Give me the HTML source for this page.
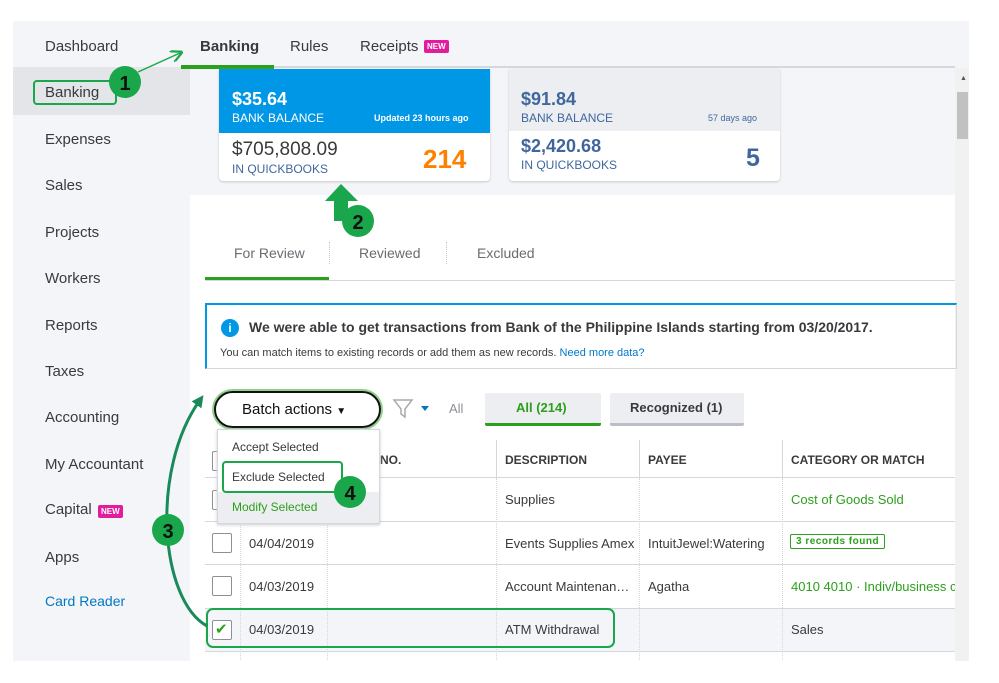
<!DOCTYPE html>
<html><head><meta charset="utf-8"><style>
*{margin:0;padding:0;box-sizing:border-box}
body{width:999px;height:683px;background:#fff;position:relative;overflow:hidden;font-family:"Liberation Sans",sans-serif;color:#393a3d}
.a{position:absolute;white-space:nowrap}
.nav{font-size:15px;color:#393a3d;left:45px}
.hd{font-size:12px;font-weight:bold;color:#393a3d}
.cell{font-size:13px;color:#393a3d}
.g{color:#2ca01c}
.hl{position:absolute;height:1px;background:#d4d7dc;left:205px;width:750px}
.vl{position:absolute;width:1px;border-left:1px dotted #d4d7dc;top:440px;height:220px}
.cb{position:absolute;width:20px;height:20px;border:1px solid #8d9096;border-radius:2px;background:#fff;left:212px}
</style></head><body>
<div class="a" style="left:13px;top:21px;width:956px;height:640px;background:#f4f5f8"></div>
<div class="a" style="left:13px;top:67px;width:177px;height:48px;background:#e4e5e8"></div>
<div class="a" style="left:190px;top:66px;width:765px;height:2px;background:#d4d7dc"></div>
<div class="a" style="left:181px;top:65px;width:93px;height:4px;background:#2ca01c"></div>
<div class="a" style="left:190px;top:195px;width:765px;height:466px;background:#fff"></div>
<div class="a" style="left:955px;top:68px;width:14px;height:593px;background:#f1f1f1"></div>
<div class="a" style="left:957px;top:92px;width:11px;height:47px;background:#c1c1c1"></div>
<div class="a" style="left:960px;top:75px;font-size:7px;color:#555">▲</div>

<div class="a nav" style="top:38px">Dashboard</div>
<div class="a nav" style="top:84px">Banking</div>
<div class="a" style="left:33px;top:80px;width:84px;height:25px;border:2px solid #1aa64b;border-radius:4px"></div>
<div class="a nav" style="top:131px">Expenses</div>
<div class="a nav" style="top:177px">Sales</div>
<div class="a nav" style="top:224px">Projects</div>
<div class="a nav" style="top:270px">Workers</div>
<div class="a nav" style="top:317px">Reports</div>
<div class="a nav" style="top:363px">Taxes</div>
<div class="a nav" style="top:409px">Accounting</div>
<div class="a nav" style="top:456px">My Accountant</div>
<div class="a nav" style="top:501px">Capital</div>
<div class="a" style="left:98px;top:505px;background:#e31c9e;color:#fff;font-size:8px;font-weight:bold;padding:2px 3px;border-radius:2px">NEW</div>
<div class="a nav" style="top:549px">Apps</div>
<div class="a nav" style="top:593px;color:#0077c5;font-size:14px">Card Reader</div>

<div class="a" style="left:200px;top:38px;font-size:15px;font-weight:bold">Banking</div>
<div class="a" style="left:290px;top:38px;font-size:15px">Rules</div>
<div class="a" style="left:360px;top:38px;font-size:15px">Receipts</div>
<div class="a" style="left:424px;top:40px;background:#e31c9e;color:#fff;font-size:8px;font-weight:bold;padding:2px 3px;border-radius:2px">NEW</div>

<div class="a" style="left:219px;top:69px;width:271px;height:112px;background:#fff;border-radius:0 0 4px 4px;box-shadow:0 1px 2px #c8c8c8"></div>
<div class="a" style="left:219px;top:69px;width:271px;height:64px;background:#0097e6"></div>
<div class="a" style="left:232px;top:89px;font-size:18px;font-weight:bold;color:#fff">$35.64</div>
<div class="a" style="left:232px;top:111px;font-size:12px;color:#fff">BANK BALANCE</div>
<div class="a" style="left:374px;top:113px;font-size:9px;font-weight:bold;color:#fff">Updated 23 hours ago</div>
<div class="a" style="left:232px;top:139px;font-size:19px;color:#393a3d">$705,808.09</div>
<div class="a" style="left:232px;top:162px;font-size:12px;color:#40679d">IN QUICKBOOKS</div>
<div class="a" style="left:423px;top:144px;font-size:26px;font-weight:bold;color:#ff8000">214</div>
<div class="a" style="left:509px;top:69px;width:271px;height:112px;background:#fff;border-radius:0 0 4px 4px;box-shadow:0 1px 2px #c8c8c8"></div>
<div class="a" style="left:509px;top:69px;width:271px;height:62px;background:#eceef1"></div>
<div class="a" style="left:521px;top:89px;font-size:18px;font-weight:bold;color:#40679d">$91.84</div>
<div class="a" style="left:521px;top:111px;font-size:12px;color:#40679d">BANK BALANCE</div>
<div class="a" style="left:708px;top:113px;font-size:9px;color:#40679d">57 days ago</div>
<div class="a" style="left:521px;top:136px;font-size:18px;font-weight:bold;color:#40679d">$2,420.68</div>
<div class="a" style="left:521px;top:158px;font-size:12px;color:#40679d">IN QUICKBOOKS</div>
<div class="a" style="left:746px;top:144px;font-size:25px;font-weight:bold;color:#40679d">5</div>

<div class="a" style="left:234px;top:245px;font-size:14px;color:#6b6c72">For Review</div>
<div class="a" style="left:359px;top:245px;font-size:14px;color:#6b6c72">Reviewed</div>
<div class="a" style="left:477px;top:245px;font-size:14px;color:#6b6c72">Excluded</div>
<div class="a" style="left:329px;top:242px;height:22px;border-left:1px dotted #c8c8c8"></div>
<div class="a" style="left:446px;top:242px;height:22px;border-left:1px dotted #c8c8c8"></div>
<div class="a" style="left:205px;top:280px;width:750px;height:1px;background:#d4d7dc"></div>
<div class="a" style="left:205px;top:277px;width:124px;height:3px;background:#2ca01c"></div>

<div class="a" style="left:205px;top:303px;width:752px;height:66px;border:1px solid #d4d7dc;border-top:2px solid #0097e6;border-left:2px solid #0097e6"></div>
<div class="a" style="left:221px;top:319px;width:18px;height:18px;border-radius:50%;background:#0097e6;color:#fff;font-size:12px;font-weight:bold;text-align:center;line-height:18px">i</div>
<div class="a" style="left:249px;top:319px;font-size:14px;font-weight:bold;color:#393a3d">We were able to get transactions from Bank of the Philippine Islands starting from 03/20/2017.</div>
<div class="a" style="left:220px;top:347px;font-size:11px;color:#393a3d">You can match items to existing records or add them as new records. <span style="color:#0077c5">Need more data?</span></div>

<div class="a" style="left:214px;top:391px;width:167px;height:37px;border:2px solid #111;border-radius:19px;box-shadow:0 0 0 2px #8fd18a"></div>
<div class="a" style="left:242px;top:401px;font-size:15px;color:#111">Batch actions <span style="font-size:10px">▼</span></div>
<svg class="a" style="left:392px;top:398px" width="40" height="22"><path d="M2 2h18l-7 9v8l-4-3v-5z" fill="none" stroke="#aaa" stroke-width="1.5"/><path d="M29 8h8l-4 5z" fill="#0077c5"/></svg>
<div class="a" style="left:449px;top:401px;font-size:13px;color:#8d9096">All</div>
<div class="a" style="left:485px;top:393px;width:116px;height:33px;background:#eceef1;border-bottom:3px solid #2ca01c;border-radius:2px"></div>
<div class="a" style="left:516px;top:400px;font-size:13px;font-weight:bold;color:#2ca01c">All (214)</div>
<div class="a" style="left:610px;top:393px;width:134px;height:33px;background:#eceef1;border-bottom:3px solid #babec5;border-radius:2px"></div>
<div class="a" style="left:630px;top:400px;font-size:13px;font-weight:bold;color:#393a3d">Recognized (1)</div>

<div class="a" style="left:205px;top:608px;width:750px;height:43px;background:#f4f5f8"></div>
<div class="hl" style="top:477px"></div><div class="hl" style="top:521px"></div><div class="hl" style="top:564px"></div><div class="hl" style="top:608px"></div><div class="hl" style="top:651px"></div>
<div class="vl" style="left:240px"></div><div class="vl" style="left:327px"></div><div class="vl" style="left:496px;border-left:1px solid #d4d7dc;height:38px"></div><div class="vl" style="left:496px;top:478px;height:182px"></div>
<div class="vl" style="left:639px;border-left:1px solid #d4d7dc;height:38px"></div><div class="vl" style="left:639px;top:478px;height:182px"></div>
<div class="vl" style="left:782px;border-left:1px solid #d4d7dc;height:38px"></div><div class="vl" style="left:782px;top:478px;height:182px"></div>
<div class="a hd" style="left:380px;top:453px">NO.</div>
<div class="a hd" style="left:505px;top:453px">DESCRIPTION</div>
<div class="a hd" style="left:648px;top:453px">PAYEE</div>
<div class="a hd" style="left:791px;top:453px">CATEGORY OR MATCH</div>
<div class="cb" style="top:451px"></div><div class="cb" style="top:490px"></div>
<div class="a cell" style="left:505px;top:492px">Supplies</div>
<div class="a cell g" style="left:791px;top:492px">Cost of Goods Sold</div>
<div class="cb" style="top:533px"></div>
<div class="a cell" style="left:249px;top:536px">04/04/2019</div>
<div class="a cell" style="left:505px;top:536px">Events Supplies Amex</div>
<div class="a cell" style="left:648px;top:536px">IntuitJewel:Watering</div>
<div class="a" style="left:790px;top:534px;border:1px solid #2ca01c;border-radius:2px;font-size:10px;font-weight:bold;color:#2ca01c;padding:1px 5px;letter-spacing:.5px">3 records found</div>
<div class="cb" style="top:576px"></div>
<div class="a cell" style="left:249px;top:579px">04/03/2019</div>
<div class="a cell" style="left:505px;top:579px">Account Maintenan…</div>
<div class="a cell" style="left:648px;top:579px">Agatha</div>
<div class="a cell g" style="left:791px;top:579px;width:164px;overflow:hidden">4010 4010 · Indiv/business co</div>
<div class="cb" style="top:620px"></div>
<div class="a" style="left:215px;top:620px;font-size:15px;color:#2ca01c">✔</div>
<div class="a cell" style="left:249px;top:622px">04/03/2019</div>
<div class="a cell" style="left:505px;top:622px">ATM Withdrawal</div>
<div class="a cell" style="left:791px;top:622px">Sales</div>
<div class="a" style="left:206px;top:608px;width:409px;height:40px;border:2px solid #1aa64b;border-radius:7px"></div>

<div class="a" style="left:217px;top:429px;width:163px;height:95px;background:#fff;border:1px solid #d4d7dc;box-shadow:0 1px 3px #ccc"></div>
<div class="a" style="left:218px;top:492px;width:161px;height:31px;background:#eceef1"></div>
<div class="a" style="left:232px;top:440px;font-size:12px;color:#393a3d">Accept Selected</div>
<div class="a" style="left:222px;top:461px;width:121px;height:32px;border:2px solid #1aa64b;border-radius:4px"></div>
<div class="a" style="left:232px;top:470px;font-size:12px;color:#393a3d">Exclude Selected</div>
<div class="a" style="left:232px;top:500px;font-size:12px;color:#2ca01c">Modify Selected</div>

<svg class="a" style="left:0;top:0" width="999" height="683">
<defs><marker id="m" markerWidth="8" markerHeight="8" refX="6" refY="4" orient="auto"><path d="M0 0L8 4L0 8" fill="none" stroke="#1aa64b" stroke-width="1.5"/></marker>
<marker id="m2" markerWidth="4" markerHeight="4" refX="2" refY="2" orient="auto"><path d="M0 0L4 2L0 4z" fill="#1a8a5a"/></marker></defs>
<line x1="138" y1="72" x2="180" y2="53" stroke="#1aa64b" stroke-width="1.5" marker-end="url(#m)"/>
<path d="M341 184L325 201L334 201L334 221L348 221L348 201L358 201z" fill="#1aa64b"/>
<path d="M207 626C160 600 150 470 200 400" fill="none" stroke="#1a8a5a" stroke-width="3" marker-end="url(#m2)"/>
<g font-family="Liberation Sans" font-weight="bold" font-size="20" fill="#111" text-anchor="middle">
<circle cx="125" cy="82" r="16" fill="#1aa64b"/><text x="125" y="90">1</text>
<circle cx="358" cy="221" r="16" fill="#1aa64b"/><text x="358" y="229">2</text>
<circle cx="168" cy="530" r="16" fill="#1aa64b"/><text x="168" y="538">3</text>
<circle cx="350" cy="492" r="16" fill="#1aa64b"/><text x="350" y="500">4</text>
</g></svg>
</body></html>
